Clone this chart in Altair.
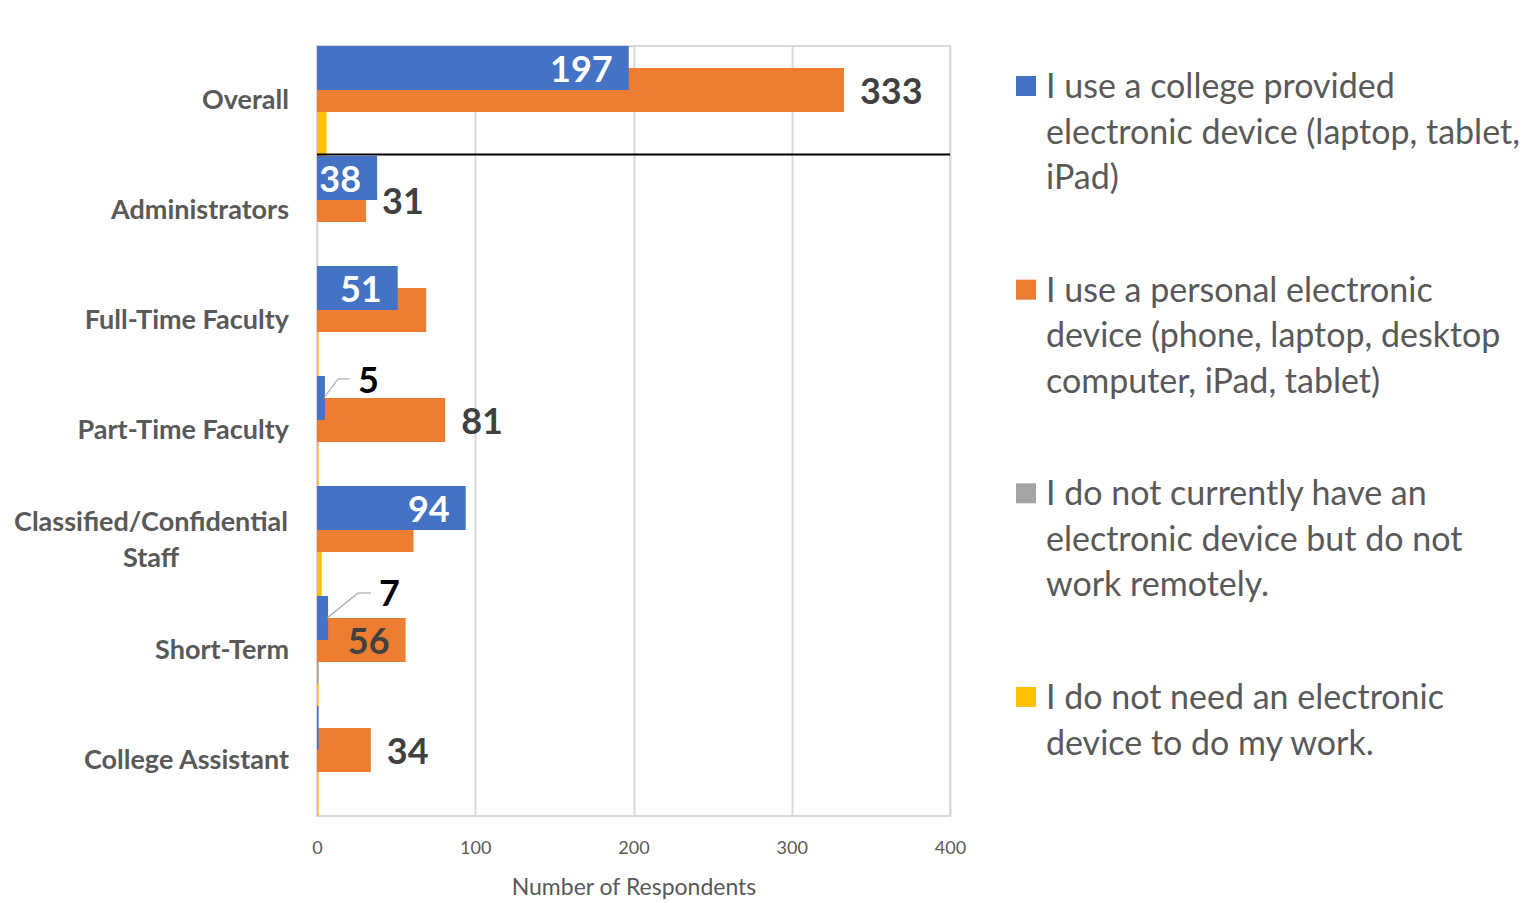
import altair as alt
import pandas as pd

# ---------------- data ----------------
categories = ["Overall", "Administrators", "Full-Time Faculty", "Part-Time Faculty",
              "Classified/Confidential Staff", "Short-Term", "College Assistant"]
category_labels = ["Overall", "Administrators", "Full-Time Faculty", "Part-Time Faculty",
                   "Classified/Confidential\nStaff", "Short-Term", "College Assistant"]

series_keys = ["college", "personal", "none", "noneed"]
series_names = [
    "I use a college provided\nelectronic device (laptop, tablet,\niPad)",
    "I use a personal electronic\ndevice (phone, laptop, desktop\ncomputer, iPad, tablet)",
    "I do not currently have an\nelectronic device but do not\nwork remotely.",
    "I do not need an electronic\ndevice to do my work.",
]
series_colors = ["#4472C4", "#ED7D31", "#A5A5A5", "#FFC000"]

college_device = [197, 38, 51, 5, 94, 7, 1]
personal_device = [333, 31, 69, 81, 61, 56, 34]
no_device = [0, 0, 0, 0, 0, 1, 0]
no_need = [6, 0, 1, 1, 3, 1, 1]

label_category = ["Overall", "Overall", "Administrators", "Administrators",
                  "Full-Time Faculty", "Part-Time Faculty", "Part-Time Faculty",
                  "Classified/Confidential Staff", "Short-Term", "Short-Term",
                  "College Assistant"]
label_series = ["college", "personal", "college", "personal", "college", "college",
                "personal", "college", "college", "personal", "personal"]
label_kind = ["inside", "outside", "inside", "outside", "inside", "callout",
              "outside", "inside", "callout", "inside", "outside"]

x_ticks = [0, 100, 200, 300, 400]
x_title = "Number of Respondents"
divider_before = "Administrators"

# ---------------- tables ----------------
series_values = dict(zip(series_keys, [college_device, personal_device, no_device, no_need]))
bars_df = pd.DataFrame([
    {"category": c, "series": s, "value": series_values[s][i]}
    for s in series_keys for i, c in enumerate(categories)
])
labels_df = pd.DataFrame([
    {"category": c, "series": s, "kind": k,
     "value": series_values[s][categories.index(c)]}
    for c, s, k in zip(label_category, label_series, label_kind)
])
labels_df["text"] = labels_df["value"].astype(str)
cat_df = pd.DataFrame({"category": categories, "label": category_labels})
cat_df["multi"] = cat_df["label"].str.contains("\n")
legend_df = pd.DataFrame({"series": series_keys, "name": series_names})
divider_df = pd.DataFrame({"category": [divider_before]})

# ---------------- style ----------------
FONT = "Lato"
W, H = 633, 770
BAR_H = 44
offsets = {"college": -33, "personal": -11, "none": 11, "noneed": 33}
DARK = "#404040"
GREY_TXT = "#595959"
VAL_SIZE = 36
CAT_SIZE = 27

y_scale = alt.Scale(domain=categories, paddingInner=0, paddingOuter=0)
x_scale = alt.Scale(domain=[0, 400], nice=False)
color_scale = alt.Scale(domain=series_keys, range=series_colors)
x_axis = alt.Axis(values=x_ticks, title=x_title)


def X():
    return alt.X("value:Q", scale=x_scale, axis=x_axis)


def Y(**kw):
    return alt.Y("category:N", scale=y_scale, axis=None, **kw)


layers = []
# bars: first series drawn last so it sits on top (as in the source chart)
for s in reversed(series_keys):
    layers.append(
        alt.Chart(bars_df).transform_filter(alt.datum.series == s)
        .mark_bar(height=BAR_H, yOffset=offsets[s])
        .encode(x=X(), y=Y(),
                color=alt.Color("series:N", scale=color_scale, legend=None))
    )

# divider line below "Overall"
layers.append(
    alt.Chart(divider_df).mark_rule(color="black", strokeWidth=2, yOffset=-1.5)
    .encode(y=Y(bandPosition=0), x=alt.value(0), x2=alt.value(W))
)

# value labels inside / outside bar ends
for s in ["college", "personal"]:
    for kind in ["inside", "outside"]:
        sub = labels_df[(labels_df.series == s) & (labels_df.kind == kind)]
        if len(sub) == 0:
            continue
        color = "white" if (s == "college" and kind == "inside") else DARK
        layers.append(
            alt.Chart(sub).mark_text(
                align="right" if kind == "inside" else "left",
                baseline="middle",
                dx=-16 if kind == "inside" else 16,
                yOffset=offsets[s] + 3,
                font=FONT, fontSize=VAL_SIZE, fontWeight="bold", color=color,
            ).encode(x=X(), y=Y(), text="text:N")
        )

# callout labels with leader lines
callout_style = {
    "Part-Time Faculty": dict(tx=33, ty=-18, lx=13, ly=-19, hx=25),
    "Short-Term": dict(tx=51, ty=-25, lx=30, ly=-25, hx=43),
}
for cat, st in callout_style.items():
    sub = labels_df[(labels_df.kind == "callout") & (labels_df.category == cat)]
    s = sub.series.iloc[0]
    off = offsets[s]
    layers.append(
        alt.Chart(sub).mark_rule(color="#a6a6a6", strokeWidth=1.2,
                                 yOffset=off, y2Offset=off + st["ly"],
                                 xOffset=-1, x2Offset=st["lx"])
        .encode(x=X(), x2="value:Q", y=Y(bandPosition=0.5),
                y2=alt.Y2("category"))
    )
    layers.append(
        alt.Chart(sub).mark_rule(color="#a6a6a6", strokeWidth=1.2,
                                 yOffset=off + st["ly"],
                                 xOffset=st["lx"], x2Offset=st["hx"])
        .encode(x=X(), x2="value:Q", y=Y())
    )
    layers.append(
        alt.Chart(sub).mark_text(align="left", baseline="middle",
                                 dx=st["tx"], dy=st["ty"] + 2, yOffset=off,
                                 font=FONT, fontSize=VAL_SIZE, fontWeight="bold",
                                 color="black")
        .encode(x=X(), y=Y(), text="text:N")
    )

# category labels
layers.append(
    alt.Chart(cat_df).transform_filter("!datum.multi")
    .mark_text(align="right", baseline="middle", dx=-28, font=FONT, fontSize=CAT_SIZE,
               fontWeight="bold", color=GREY_TXT)
    .encode(y=Y(), x=alt.value(0), text="label:N")
)
layers.append(
    alt.Chart(cat_df).transform_filter("datum.multi")
    .mark_text(align="center", baseline="middle", dx=-166, dy=-18, lineBreak="\n",
               lineHeight=36, font=FONT, fontSize=CAT_SIZE, fontWeight="bold",
               color=GREY_TXT)
    .encode(y=Y(), x=alt.value(0), text="label:N")
)

main = alt.layer(*layers).properties(
    width=W, height=H,
    view=alt.ViewBackground(stroke="#d9d9d9", strokeWidth=2),
)

# ---------------- legend panel ----------------
legend_y = alt.Y("series:N", scale=alt.Scale(type="point", domain=series_keys,
                                             range=[40, 651], padding=0), axis=None)
leg_sq = alt.Chart(legend_df).mark_square(size=400, opacity=1, filled=True).encode(
    y=legend_y, x=alt.value(39),
    color=alt.Color("series:N", scale=color_scale, legend=None),
)
leg_txt = alt.Chart(legend_df).mark_text(
    align="left", baseline="top", dy=-15, lineBreak="\n", lineHeight=45.5,
    font=FONT, fontSize=34, color=GREY_TXT,
).encode(y=legend_y, x=alt.value(59), text="name:N")
legend = alt.layer(leg_sq, leg_txt).properties(
    width=540, height=H, view=alt.ViewBackground(strokeOpacity=0)
)

chart = alt.hconcat(main, legend, spacing=20).properties(
    padding={"left": 5, "top": 37, "right": 0, "bottom": 0}
).configure_axisX(
    grid=True, gridColor="#d9d9d9", gridWidth=2, domain=False, ticks=False,
    tickSize=0, labelFlush=False, labelFont=FONT, labelFontSize=18,
    labelColor=GREY_TXT, labelPadding=23, titleFont=FONT, titleFontSize=23,
    titleFontWeight="normal", titleColor=GREY_TXT, titlePadding=19,
)

chart.save("out.html", embed_options={"renderer": "svg", "actions": False})
